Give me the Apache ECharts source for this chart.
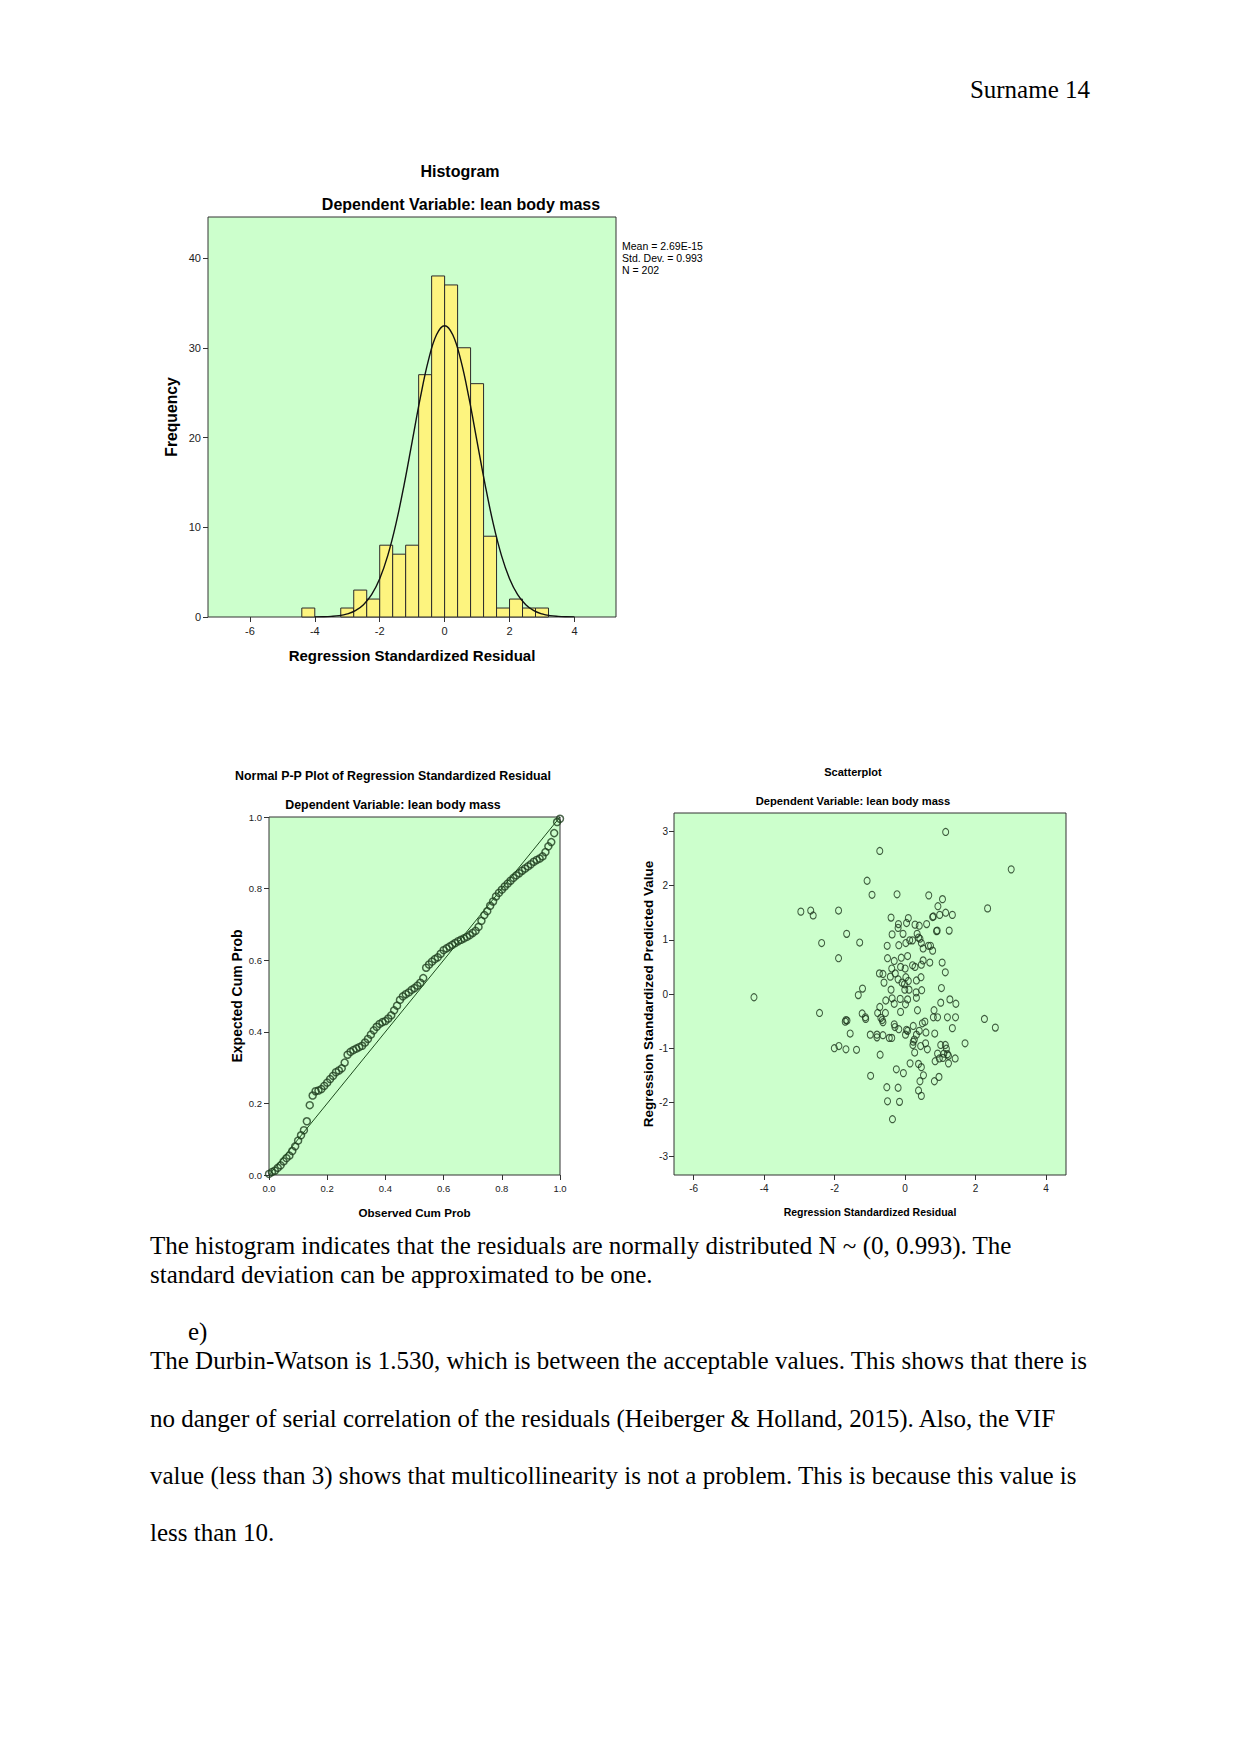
<!DOCTYPE html>
<html>
<head>
<meta charset="utf-8">
<script src="https://cdn.jsdelivr.net/npm/echarts@6/dist/echarts.min.js"></script>
<style>
  html, body { margin: 0; padding: 0; background: #ffffff; }
  #page { position: relative; width: 1241px; height: 1754px; background: #ffffff; }
  #chart { position: absolute; left: 0; top: 0; width: 1241px; height: 1754px; }
  .txt { position: absolute; font-family: "Liberation Serif", "Times New Roman", serif; font-size: 25px; line-height: 25px; color: #000; white-space: nowrap; }
</style>
</head>
<body>
<div id="page">
  <div id="chart"></div>
  <div class="txt" style="right:151px; top:77px;">Surname 14</div>
  <div class="txt" style="left:150px; top:1233px;">The histogram indicates that the residuals are normally distributed N ~ (0, 0.993). The</div>
  <div class="txt" style="left:150px; top:1262px;">standard deviation can be approximated to be one.</div>
  <div class="txt" style="left:188px; top:1319px;">e)</div>
  <div class="txt" style="left:150px; top:1348px;">The Durbin-Watson is 1.530, which is between the acceptable values. This shows that there is</div>
  <div class="txt" style="left:150px; top:1406px;">no danger of serial correlation of the residuals (Heiberger &amp; Holland, 2015). Also, the VIF</div>
  <div class="txt" style="left:150px; top:1463px;">value (less than 3) shows that multicollinearity is not a problem. This is because this value is</div>
  <div class="txt" style="left:150px; top:1520px;">less than 10.</div>
</div>
<script>
// ---------------- DATA ----------------
// Histogram of regression standardized residuals
const histBinStart = [-4.4, -3.2, -2.8, -2.4, -2.0, -1.6, -1.2, -0.8, -0.4, 0.0, 0.4, 0.8, 1.2, 1.6, 2.0, 2.4, 2.8];
const histBinWidth = 0.4;
const histFreq     = [1, 1, 3, 2, 8, 7, 8, 27, 38, 37, 30, 26, 9, 1, 2, 1, 1];
const histMean = '2.69E-15';
const histStdDev = '0.993';
const histN = 202;
// Normal curve overlay
const curveX = [-4.0, -3.75, -3.5, -3.25, -3.0, -2.75, -2.5, -2.25, -2.0, -1.75, -1.5, -1.25, -1.0, -0.75, -0.5, -0.25, 0.0,
                0.25, 0.5, 0.75, 1.0, 1.25, 1.5, 1.75, 2.0, 2.25, 2.5, 2.75, 3.0, 3.25, 3.5, 3.75, 4.0];
const curveY = [0.01, 0.03, 0.07, 0.15, 0.34, 0.70, 1.37, 2.49, 4.27, 6.87, 10.37, 14.70, 19.55, 24.41, 28.59, 31.45, 32.46,
                31.45, 28.59, 24.41, 19.55, 14.70, 10.37, 6.87, 4.27, 2.49, 1.37, 0.70, 0.34, 0.15, 0.07, 0.03, 0.01];
const histXTicks = [-6, -4, -2, 0, 2, 4];
const histYTicks = [0, 10, 20, 30, 40];

// Normal P-P plot
const ppObserved = [0.00,0.01,0.02,0.03,0.04,0.05,0.06,0.07,0.08,0.09,0.10,0.11,0.12,0.13,0.14,0.15,0.16,0.17,0.18,0.19,
                    0.20,0.21,0.22,0.23,0.24,0.25,0.26,0.27,0.28,0.29,0.30,0.31,0.32,0.33,0.34,0.35,0.36,0.37,0.38,0.39,
                    0.40,0.41,0.42,0.43,0.44,0.45,0.46,0.47,0.48,0.49,0.50,0.51,0.52,0.53,0.54,0.55,0.56,0.57,0.58,0.59,
                    0.60,0.61,0.62,0.63,0.64,0.65,0.66,0.67,0.68,0.69,0.70,0.71,0.72,0.73,0.74,0.75,0.76,0.77,0.78,0.79,
                    0.80,0.81,0.82,0.83,0.84,0.85,0.86,0.87,0.88,0.89,0.90,0.91,0.92,0.93,0.94,0.95,0.96,0.97,0.98,0.99,1.00];
const ppExpected = [0.003,0.008,0.012,0.020,0.027,0.038,0.047,0.054,0.067,0.080,0.096,0.111,0.125,0.150,0.195,0.222,0.234,0.236,0.240,0.249,
                    0.258,0.268,0.277,0.287,0.292,0.298,0.314,0.336,0.344,0.349,0.353,0.357,0.361,0.370,0.380,0.392,0.404,0.414,0.422,0.427,
                    0.430,0.437,0.446,0.460,0.473,0.489,0.499,0.505,0.510,0.517,0.522,0.529,0.537,0.550,0.579,0.588,0.596,0.603,0.608,0.618,
                    0.628,0.633,0.638,0.643,0.648,0.653,0.657,0.661,0.665,0.670,0.676,0.682,0.693,0.710,0.726,0.737,0.752,0.764,0.778,0.788,
                    0.797,0.806,0.814,0.822,0.830,0.837,0.843,0.850,0.856,0.862,0.868,0.875,0.880,0.884,0.890,0.902,0.918,0.930,0.955,0.986,0.995];
const ppRefX = [0, 1];
const ppRefY = [0, 1];

// Scatterplot: standardized residual (x) vs standardized predicted value (y)
const scResidual = [1.15,-0.72,3.01,-1.08,-0.94,-0.23,0.67,1.06,0.93,2.34,-2.96,-2.68,-2.61,-1.89,1.15,1.34,0.98,0.78,0.80,-0.40,
  0.09,-0.19,0.04,0.28,0.40,0.61,-0.20,-1.66,-0.37,-0.06,0.34,0.89,0.91,1.25,0.38,0.42,0.13,0.21,0.02,0.46,
  -1.29,-2.37,-0.51,-0.18,0.66,0.72,0.51,0.78,0.07,-0.11,-1.89,-0.50,-0.31,0.51,0.70,1.05,0.46,0.21,0.28,-0.13,
  0.00,-0.38,-0.73,-0.63,-0.28,1.14,-0.42,-0.20,0.02,0.45,0.32,-0.60,-0.09,-0.02,0.09,-1.21,-0.40,-0.01,0.11,0.47,
  1.03,0.31,-1.33,-4.29,-0.37,-0.14,0.07,0.32,-0.55,-0.31,0.01,1.01,1.27,1.44,-0.72,0.35,0.82,-0.13,-2.43,-1.22,
  -0.78,-0.56,-1.13,-1.12,-0.69,-0.65,-1.68,-1.65,-1.70,-0.63,0.80,0.92,1.20,1.43,2.25,0.56,0.49,-0.31,-0.29,0.23,
  -0.18,0.04,0.07,2.56,1.34,0.40,0.59,0.84,-1.56,-0.99,-0.80,-0.63,0.01,0.32,-0.80,-0.45,-0.38,0.26,0.23,0.58,
  1.70,-1.88,-2.01,0.22,0.44,1.01,1.14,-1.68,-1.38,0.63,1.17,0.27,-0.71,0.92,1.10,1.20,0.97,1.07,1.42,1.23,
  0.85,1.23,0.14,0.38,0.46,-0.25,-0.05,0.52,-0.98,0.96,0.42,0.83,-0.52,-0.20,0.38,0.46,-0.50,-0.16,-0.36];
const scPredicted = [2.99,2.64,2.30,2.09,1.83,1.84,1.82,1.75,1.62,1.58,1.52,1.54,1.45,1.54,1.50,1.46,1.46,1.42,1.43,1.41,
  1.40,1.29,1.31,1.28,1.26,1.29,1.22,1.11,1.10,1.11,1.11,1.16,1.17,1.17,1.04,1.02,0.99,0.99,0.94,0.94,
  0.95,0.94,0.89,0.90,0.89,0.89,0.84,0.80,0.70,0.67,0.66,0.66,0.61,0.62,0.58,0.58,0.54,0.53,0.50,0.50,
  0.47,0.47,0.38,0.37,0.38,0.40,0.32,0.27,0.31,0.31,0.25,0.21,0.21,0.18,0.24,0.10,0.08,0.08,0.08,0.07,
  0.11,0.03,-0.02,-0.06,-0.08,-0.09,-0.10,-0.07,-0.12,-0.18,-0.19,-0.16,-0.10,-0.18,-0.24,-0.30,-0.30,-0.33,-0.35,-0.36,
  -0.35,-0.35,-0.43,-0.46,-0.44,-0.48,-0.48,-0.49,-0.51,-0.52,-0.43,-0.43,-0.43,-0.43,-0.46,-0.51,-0.54,-0.56,-0.61,-0.59,
  -0.65,-0.66,-0.68,-0.62,-0.63,-0.68,-0.71,-0.73,-0.73,-0.75,-0.75,-0.76,-0.75,-0.75,-0.80,-0.81,-0.81,-0.84,-0.88,-0.91,
  -0.91,-0.96,-1.00,-0.94,-0.96,-0.94,-0.94,-1.02,-1.03,-1.02,-1.01,-1.08,-1.12,-1.10,-1.10,-1.11,-1.19,-1.18,-1.19,-1.14,
  -1.24,-1.28,-1.28,-1.29,-1.35,-1.39,-1.46,-1.50,-1.51,-1.53,-1.61,-1.61,-1.72,-1.73,-1.78,-1.88,-1.98,-1.99,-2.31];
const scXTicks = [-6, -4, -2, 0, 2, 4];
const scYTicks = [-3, -2, -1, 0, 1, 2, 3];
const ppTicks = [0, 0.2, 0.4, 0.6, 0.8, 1.0];

// ---------------- STYLE ----------------
const FONT = '"Liberation Sans", Arial, Helvetica, sans-serif';
const PLOT_BG = '#ccffcc';
const FRAME = '#333333';
const BAR_FILL = '#fdf47f';

function axisCommon(ticks, fontSize, margin, fmt) {
  return {
    type: 'value',
    splitLine: { show: false },
    axisLine: { show: false, onZero: false },
    axisTick: { show: true, inside: false, length: 5, customValues: ticks, lineStyle: { color: FRAME, width: 1 } },
    axisLabel: { show: true, customValues: ticks, margin: margin, color: '#222', fontSize: fontSize, fontFamily: FONT,
                 formatter: fmt || (v => String(v)) },
    nameLocation: 'middle',
    nameTextStyle: { color: '#000', fontFamily: FONT, fontWeight: 'bold' }
  };
}

const chart = echarts.init(document.getElementById('chart'), null, { renderer: 'svg', width: 1241, height: 1754 });

const barData = histBinStart.map((s, i) => [s, s + histBinWidth, histFreq[i]]);
const curveData = curveX.map((x, i) => [x, curveY[i]]);
const ppData = ppObserved.map((x, i) => [x, ppExpected[i]]);
const ppRef = ppRefX.map((x, i) => [x, ppRefY[i]]);
const scData = scResidual.map((x, i) => [x, scPredicted[i]]);

function gridBox(left, top, width, height) {
  return { left, top, width, height, show: true, backgroundColor: PLOT_BG, borderColor: FRAME, borderWidth: 1, containLabel: false };
}

const fmt1 = v => v.toFixed(1);

const option = {
  animation: false,
  backgroundColor: 'transparent',
  grid: [
    gridBox(208, 217, 408, 400),
    gridBox(269, 817, 291, 358),
    gridBox(674, 813, 392, 362)
  ],
  xAxis: [
    Object.assign(axisCommon(histXTicks, 11, 8), { gridIndex: 0, min: -7.29, max: 5.28,
      name: 'Regression Standardized Residual', nameGap: 31,
      nameTextStyle: { color: '#000', fontFamily: FONT, fontWeight: 'bold', fontSize: 15 } }),
    Object.assign(axisCommon(ppTicks, 9.5, 8, fmt1), { gridIndex: 1, min: 0, max: 1,
      name: 'Observed Cum Prob', nameGap: 31,
      nameTextStyle: { color: '#000', fontFamily: FONT, fontWeight: 'bold', fontSize: 11.6 } }),
    Object.assign(axisCommon(scXTicks, 10, 8), { gridIndex: 2, min: -6.56, max: 4.565,
      name: 'Regression Standardized Residual', nameGap: 31,
      nameTextStyle: { color: '#000', fontFamily: FONT, fontWeight: 'bold', fontSize: 10.5 } })
  ],
  yAxis: [
    Object.assign(axisCommon(histYTicks, 11, 7), { gridIndex: 0, min: 0, max: 44.57,
      name: 'Frequency', nameGap: 29,
      nameTextStyle: { color: '#000', fontFamily: FONT, fontWeight: 'bold', fontSize: 15.7 } }),
    Object.assign(axisCommon(ppTicks, 9.5, 7, fmt1), { gridIndex: 1, min: 0, max: 1,
      name: 'Expected Cum Prob', nameGap: 25,
      nameTextStyle: { color: '#000', fontFamily: FONT, fontWeight: 'bold', fontSize: 14 } }),
    Object.assign(axisCommon(scYTicks, 10, 6), { gridIndex: 2, min: -3.34, max: 3.34,
      name: 'Regression Standardized Predicted Value', nameGap: 17,
      nameTextStyle: { color: '#000', fontFamily: FONT, fontWeight: 'bold', fontSize: 13.5 } })
  ],
  graphic: [
    { type: 'text', x: 460, y: 171, style: { text: 'Histogram', font: 'bold 16px ' + FONT, fill: '#000', align: 'center', verticalAlign: 'middle' } },
    { type: 'text', x: 461, y: 204, style: { text: 'Dependent Variable: lean body mass', font: 'bold 16px ' + FONT, fill: '#000', align: 'center', verticalAlign: 'middle' } },
    { type: 'text', x: 622, y: 240, style: { text: 'Mean = ' + histMean + '\nStd. Dev. = ' + histStdDev + '\nN = ' + histN,
        font: '10.5px ' + FONT, lineHeight: 11.8, fill: '#000', align: 'left', verticalAlign: 'top' } },
    { type: 'text', x: 393, y: 775.5, style: { text: 'Normal P-P Plot of Regression Standardized Residual', font: 'bold 12.4px ' + FONT, fill: '#000', align: 'center', verticalAlign: 'middle' } },
    { type: 'text', x: 393, y: 804.5, style: { text: 'Dependent Variable: lean body mass', font: 'bold 12.4px ' + FONT, fill: '#000', align: 'center', verticalAlign: 'middle' } },
    { type: 'text', x: 853, y: 772, style: { text: 'Scatterplot', font: 'bold 11px ' + FONT, fill: '#000', align: 'center', verticalAlign: 'middle' } },
    { type: 'text', x: 853, y: 801, style: { text: 'Dependent Variable: lean body mass', font: 'bold 11.2px ' + FONT, fill: '#000', align: 'center', verticalAlign: 'middle' } }
  ],
  series: [
    {
      type: 'custom', xAxisIndex: 0, yAxisIndex: 0, data: barData, encode: { x: [0, 1], y: 2 },
      renderItem: function (params, api) {
        const p0 = api.coord([api.value(0), api.value(2)]);
        const p1 = api.coord([api.value(1), 0]);
        return { type: 'rect', shape: { x: p0[0], y: p0[1], width: p1[0] - p0[0], height: p1[1] - p0[1] },
                 style: { fill: BAR_FILL, stroke: '#2a2a2a', lineWidth: 1 } };
      }
    },
    { type: 'line', xAxisIndex: 0, yAxisIndex: 0, data: curveData, showSymbol: false, smooth: 0.4,
      lineStyle: { color: '#111', width: 1.4 }, z: 5 },
    { type: 'line', xAxisIndex: 1, yAxisIndex: 1, data: ppRef, showSymbol: false,
      lineStyle: { color: '#1d4a1d', width: 1 } },
    { type: 'scatter', xAxisIndex: 1, yAxisIndex: 1, data: ppData, symbol: 'circle', symbolSize: 7,
      itemStyle: { color: 'rgba(0,0,0,0)', borderColor: '#1f3f1f', borderWidth: 1.5 } },
    { type: 'scatter', xAxisIndex: 2, yAxisIndex: 2, data: scData, symbol: 'circle', symbolSize: [6, 7],
      itemStyle: { color: 'rgba(0,0,0,0)', borderColor: '#1c351c', borderWidth: 1.1 } }
  ]
};
chart.setOption(option);
</script>
</body>
</html>
